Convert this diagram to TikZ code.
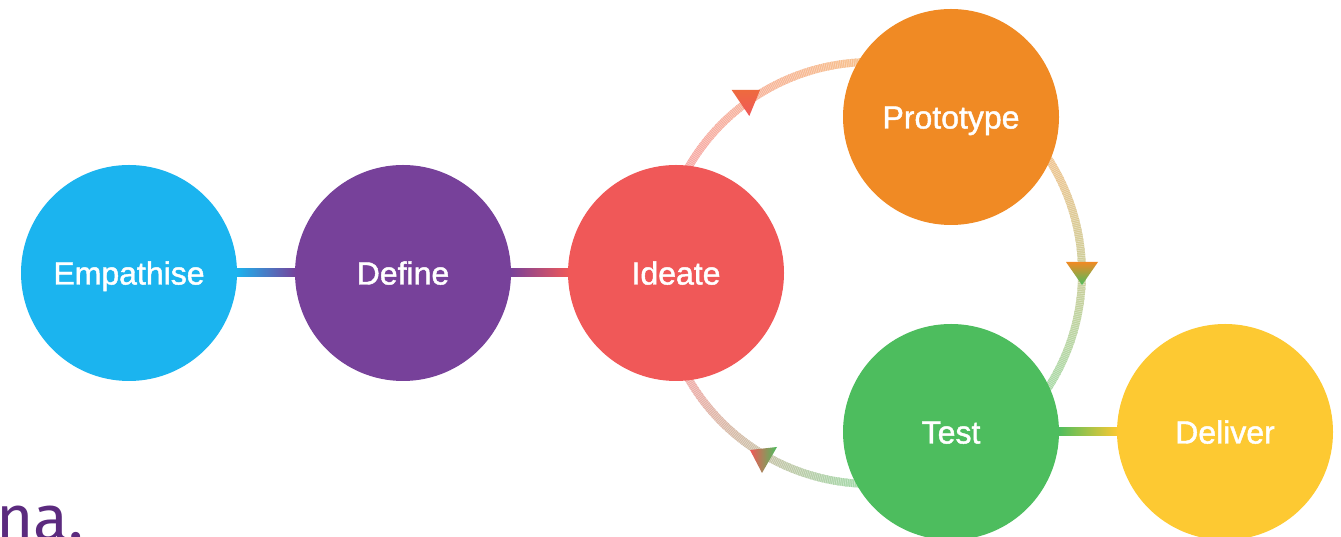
\documentclass[tikz,border=0pt]{standalone}
\usepackage{fontspec}
\setmainfont{Liberation Sans}
\newfontfamily\lblfont[FakeBold=1.4]{Liberation Sans}
\newfontfamily\slidefont{Fira Sans}
\usetikzlibrary{calc}
\definecolor{cEmp}{HTML}{1BB4EF}
\definecolor{cDef}{HTML}{77419A}
\definecolor{cIde}{HTML}{F05858}
\definecolor{cPro}{HTML}{F08A24}
\definecolor{cTes}{HTML}{4DBD5E}
\definecolor{cDel}{HTML}{FDC932}
\definecolor{cNa}{HTML}{5B2A7E}
\definecolor{cArO}{HTML}{EE6A3E}
\tikzset{
  stage/.style={circle, minimum size=216pt, inner sep=0pt, text=white,
    font=\lblfont\fontsize{32}{36}\selectfont, text height=23pt, text depth=0pt},
  arcseg/.style={line width=7.8pt, line cap=butt},
  hatch/.style={draw=white, line width=7.9pt, dash pattern=on 0.7pt off 1.1pt, opacity=0.4},
}
\newcommand{\gradarc}[5]{%
  \foreach \ix in {1,...,#5}{%
    \pgfmathsetmacro{\angA}{#1+(#2-#1)*(\ix-1)/#5}%
    \pgfmathsetmacro{\angB}{#1+(#2-#1)*(\ix+0.4)/#5}%
    \pgfmathtruncatemacro{\gt}{100*(\ix-0.5)/#5}%
    \colorlet{segc}{#4!\gt!#3}%
    \draw[arcseg, draw=segc!55!white] ({871+211*cos(\angA)},{264+211*sin(\angA)})
      arc[start angle=\angA, end angle=\angB, radius=211];
  }%
  \draw[hatch] ({871+211*cos(#1)},{264+211*sin(#1)}) arc[start angle=#1, end angle=#2, radius=211];
}
\begin{document}
\begin{tikzpicture}[x=1pt,y=1pt]
\useasboundingbox[fill=white] (0,0) rectangle (1341,537);
% cycle arcs
\gradarc{155}{90}{cIde}{cPro}{60}
\gradarc{40}{-40}{cPro}{cTes}{60}
\gradarc{-90}{-155}{cTes}{cIde}{60}
% stages
\node[stage, fill=cEmp] (emp) at (129,264) {Empathise};
\node[stage, fill=cDef] (def) at (403,264) {Define};
\node[stage, fill=cIde] (ide) at (676,264) {Ideate};
\node[stage, fill=cPro] (pro) at (951,420) {Prototype};
\node[stage, fill=cTes] (tes) at (951,105) {Test};
\node[stage, fill=cDel] (del) at (1225,105) {Deliver};
% connectors
\shade[left color=cEmp, right color=cDef] ($(emp.east)+(-1,4)$) rectangle ($(def.west)+(1,-4)$);
\shade[left color=cDef, right color=cIde] ($(def.east)+(-1,4)$) rectangle ($(ide.west)+(1,-4)$);
\shade[left color=cTes, right color=cDel] ($(tes.east)+(-1,4)$) rectangle ($(del.west)+(1,-4)$);
% arrowheads
\shade[top color=cArO, bottom color=cIde] (731.7,447) -- (760,447) -- (749.3,421) -- cycle;
\shade[top color=cPro, bottom color=cTes] (1066,275) -- (1098,275) -- (1082,252) -- cycle;
\shade[left color=cIde, right color=cTes] (750,87) -- (777,90) -- (762,64) -- cycle;
% cropped slide text
\node[anchor=base east, inner sep=0pt, text=cNa, font=\slidefont\fontsize{64}{66}\selectfont] (na) at (84,-4) {na.};
\end{tikzpicture}
\end{document}
